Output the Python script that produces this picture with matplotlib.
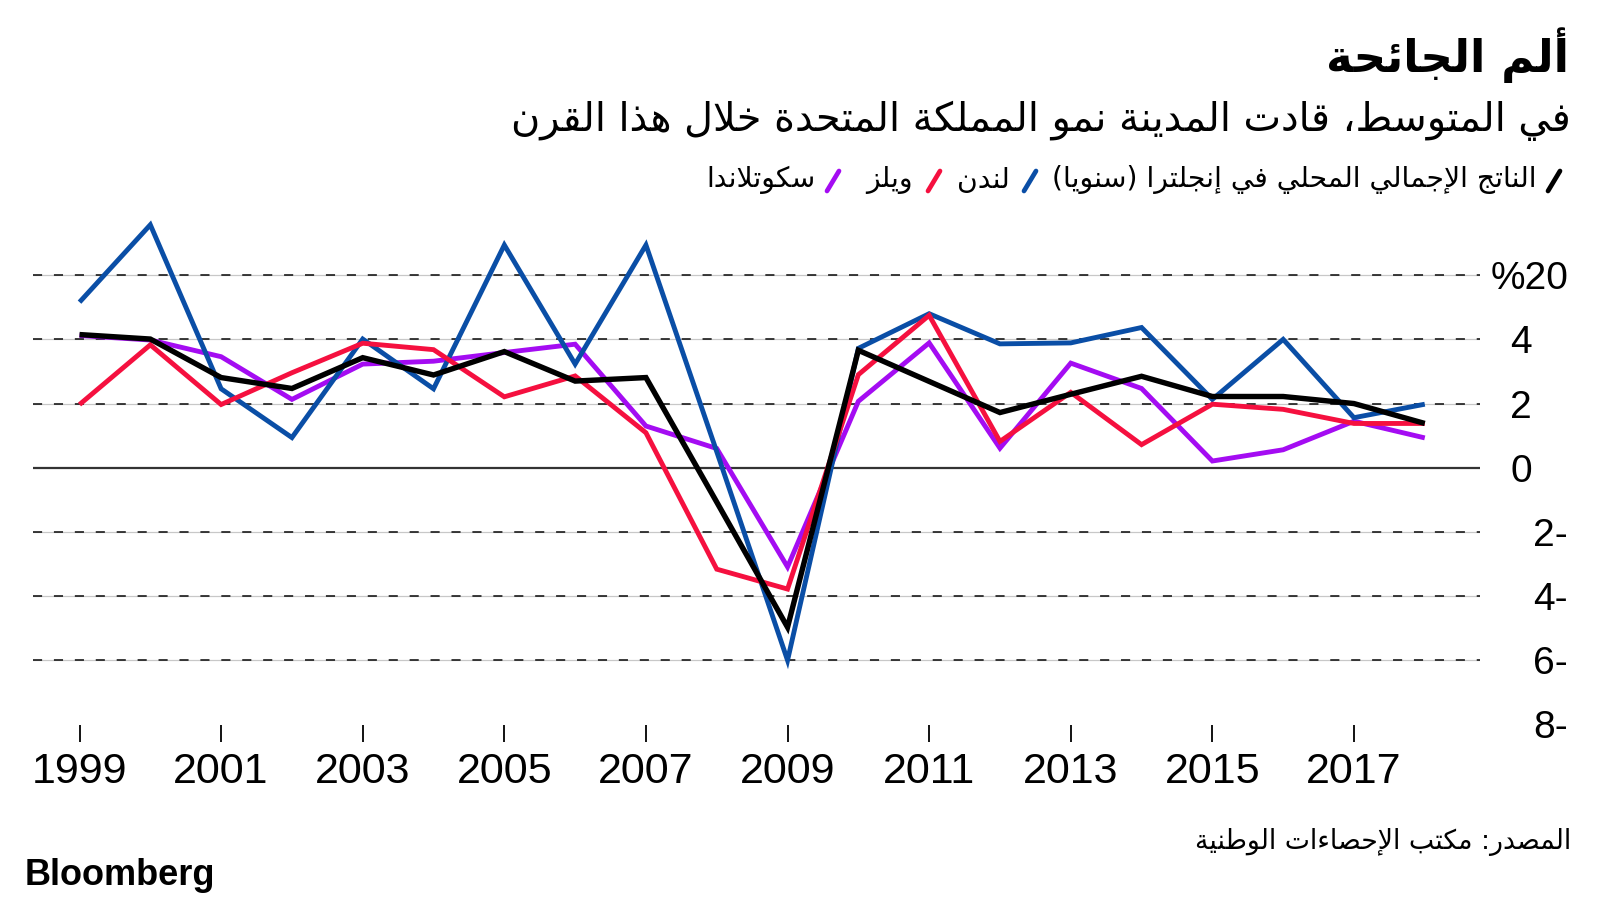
import matplotlib
matplotlib.use('Agg')
import matplotlib.pyplot as plt
from matplotlib.lines import Line2D
import matplotlib.transforms as mtransforms

# ---------------- data ----------------
years = list(range(1999, 2019))
england = [4.15, 4.01, 2.81, 2.47, 3.43, 2.89, 3.62, 2.70, 2.81, -1.07,
           -4.97, 3.66, 2.69, 1.72, 2.29, 2.85, 2.22, 2.22, 2.00, 1.38]
london = [5.16, 7.57, 2.46, 0.94, 4.01, 2.46, 6.94, 3.23, 6.94, 0.50,
          -6.00, 3.72, 4.80, 3.86, 3.89, 4.37, 2.13, 4.00, 1.56, 1.98]
wales = [1.97, 3.83, 1.97, 2.96, 3.88, 3.68, 2.21, 2.86, 1.09, -3.16,
         -3.78, 2.90, 4.75, 0.82, 2.35, 0.72, 1.98, 1.82, 1.38, 1.38]
scotland = [4.12, 3.98, 3.46, 2.13, 3.23, 3.32, 3.59, 3.85, 1.30, 0.60,
            -3.09, 2.07, 3.89, 0.61, 3.26, 2.47, 0.21, 0.56, 1.45, 0.93]

series_labels = ["الناتج الإجمالي المحلي في إنجلترا (سنويا)", "لندن", "ويلز", "سكوتلاندا"]
xtick_years = [1999, 2001, 2003, 2005, 2007, 2009, 2011, 2013, 2015, 2017]
ytick_values = [6, 4, 2, 0, -2, -4, -6, -8]
ytick_labels = ["%20", "4", "2", "0", "2-", "4-", "6-", "8-"]
title_text = "ألم الجائحة"
subtitle_text = "في المتوسط، قادت المدينة نمو المملكة المتحدة خلال هذا القرن"
source_text = "المصدر: مكتب الإحصاءات الوطنية"
brand_text = "Bloomberg"

# ---------------- Arabic shaping (presentation forms + RTL order) ----------------
def _dual(s):
    return (s, s + 1, s + 2, s + 3)

def _right(s):
    return (s, s + 1)

_AR = {
    0x0621: (0xFE80,),
    0x0622: _right(0xFE81), 0x0623: _right(0xFE83), 0x0624: _right(0xFE85),
    0x0625: _right(0xFE87), 0x0626: _dual(0xFE89), 0x0627: _right(0xFE8D),
    0x0628: _dual(0xFE8F), 0x0629: _right(0xFE93), 0x062A: _dual(0xFE95),
    0x062B: _dual(0xFE99), 0x062C: _dual(0xFE9D), 0x062D: _dual(0xFEA1),
    0x062E: _dual(0xFEA5), 0x062F: _right(0xFEA9), 0x0630: _right(0xFEAB),
    0x0631: _right(0xFEAD), 0x0632: _right(0xFEAF), 0x0633: _dual(0xFEB1),
    0x0634: _dual(0xFEB5), 0x0635: _dual(0xFEB9), 0x0636: _dual(0xFEBD),
    0x0637: _dual(0xFEC1), 0x0638: _dual(0xFEC5), 0x0639: _dual(0xFEC9),
    0x063A: _dual(0xFECD), 0x0641: _dual(0xFED1), 0x0642: _dual(0xFED5),
    0x0643: _dual(0xFED9), 0x0644: _dual(0xFEDD), 0x0645: _dual(0xFEE1),
    0x0646: _dual(0xFEE5), 0x0647: _dual(0xFEE9), 0x0648: _right(0xFEED),
    0x0649: _right(0xFEEF), 0x064A: _dual(0xFEF1),
}
_LAMALEF = {'\u0622': 0xFEF5, '\u0623': 0xFEF7, '\u0625': 0xFEF9, '\u0627': 0xFEFB}


def shape(text):
    units = []
    i = 0
    while i < len(text):
        c = text[i]
        if c == '\u0644' and i + 1 < len(text) and text[i + 1] in _LAMALEF:
            units.append(('LA', _LAMALEF[text[i + 1]]))
            i += 2
        else:
            units.append(('C', c))
            i += 1

    def joins_prev(u):
        if u[0] == 'LA':
            return True
        f = _AR.get(ord(u[1]))
        return f is not None and len(f) >= 2

    def joins_next(u):
        if u[0] == 'LA':
            return False
        f = _AR.get(ord(u[1]))
        return f is not None and len(f) == 4

    out = []
    for k, u in enumerate(units):
        p = units[k - 1] if k > 0 else None
        n = units[k + 1] if k + 1 < len(units) else None
        cp = p is not None and joins_next(p) and joins_prev(u)
        cn = n is not None and joins_next(u) and joins_prev(n)
        if u[0] == 'LA':
            out.append(chr(u[1] + (1 if cp else 0)))
            continue
        f = _AR.get(ord(u[1]))
        if f is None:
            out.append(u[1])
            continue
        if cp and cn:
            g = f[3]
        elif cp:
            g = f[1]
        elif cn:
            g = f[2]
        else:
            g = f[0]
        out.append(chr(g))
    s = ''.join(out)[::-1]
    return s.translate(str.maketrans('()', ')('))


# ---------------- figure ----------------
plt.rcParams['font.family'] = ['Liberation Sans', 'DejaVu Sans']
AR_FONT = ['DejaVu Sans']

W, H = 1600, 900
fig = plt.figure(figsize=(16, 9), dpi=100)
fig.patch.set_facecolor('white')


def fx(px):
    return px / W


def fy(py):
    return 1 - py / H


ax_left, ax_right, ax_top, ax_bottom = 33, 1480, 211, 724.5
ax = fig.add_axes([fx(ax_left), fy(ax_bottom), (ax_right - ax_left) / W, (ax_bottom - ax_top) / H])
ax.set_xlim(1998.343, 2018.78)
ax.set_ylim(-8, 8)
for sp in ax.spines.values():
    sp.set_visible(False)

# grid lines
for v in ytick_values:
    if v == 0:
        ax.axhline(v, color='#333333', lw=1.6, zorder=1.2)
    elif v > -8:
        ax.axhline(v, color='#c8c8c8', lw=0.9, zorder=1)
        ax.axhline(v, color='#111111', lw=1.15, ls=(0, (5.7, 7.4)), zorder=1.1)

colors = {'england': '#000000', 'london': '#0A4EA6', 'wales': '#F5103F', 'scotland': '#A40CF2'}
kw = dict(solid_joinstyle='miter', solid_capstyle='butt')
ax.plot(years, scotland, color=colors['scotland'], lw=3.5, zorder=2, **kw)
ax.plot(years, london, color=colors['london'], lw=3.5, zorder=3, **kw)
ax.plot(years, wales, color=colors['wales'], lw=3.5, zorder=4, **kw)
ax.plot(years, england, color=colors['england'], lw=3.9, zorder=5, **kw)

# x ticks
ax.set_xticks(xtick_years)
ax.set_xticklabels([str(y) for y in xtick_years])
ax.tick_params(axis='x', direction='out', length=12.5, width=1.3, pad=7,
               labelsize=31, colors='black')
ax.set_yticks([])

# y tick labels on the right
blend = mtransforms.blended_transform_factory(ax.transAxes, ax.transData)
off = mtransforms.ScaledTranslation(0, -0.14, fig.dpi_scale_trans)
for v, lab in zip(ytick_values, ytick_labels):
    right_px = 1532 if lab.isdigit() else 1568
    xa = (right_px - ax_left) / (ax_right - ax_left)
    ax.text(xa, v, lab, transform=blend + off, ha='right', va='baseline',
            fontsize=28, color='black', clip_on=False)

# ---------------- texts ----------------
t_title = fig.text(fx(1569), fy(55), shape(title_text), ha='right', va='center',
                   fontsize=30, fontweight='bold', family=AR_FONT, color='black')
t_sub = fig.text(fx(1571), fy(121), shape(subtitle_text), ha='right', va='center',
                 fontsize=22, family=AR_FONT, color='black')
leg_right = [1536, 1010, 913, 816]
leg_slash = [1554, 1030, 934, 833]
leg_colors = [colors['england'], colors['london'], colors['wales'], colors['scotland']]
leg_texts = []
for lab, r in zip(series_labels, leg_right):
    leg_texts.append(fig.text(fx(r), fy(180), shape(lab), ha='right', va='center',
                              fontsize=16, family=AR_FONT, color='black'))
for cx, c in zip(leg_slash, leg_colors):
    fig.add_artist(Line2D([fx(cx - 6), fx(cx + 6)], [fy(191), fy(171)],
                          transform=fig.transFigure, color=c, lw=3.4,
                          solid_capstyle='round'))
t_src = fig.text(fx(1571), fy(842), shape(source_text), ha='right', va='center',
                 fontsize=17, family=AR_FONT, color='black')
fig.text(fx(25), fy(885), brand_text, ha='left', va='baseline', fontsize=26,
         fontweight='bold', family=['Liberation Sans', 'DejaVu Sans'], color='black')

# fit Arabic texts to reference widths
fig.canvas.draw()
renderer = fig.canvas.get_renderer()


def fit(t, target):
    w = t.get_window_extent(renderer).width
    t.set_fontsize(t.get_fontsize() * target / w)


fit(t_title, 243)
fit(t_sub, 1061)
fit(t_src, 377)
fit(leg_texts[0], 485)
for t in leg_texts[1:]:
    t.set_fontsize(leg_texts[0].get_fontsize())

fig.savefig('out.png', dpi=100, facecolor='white')
